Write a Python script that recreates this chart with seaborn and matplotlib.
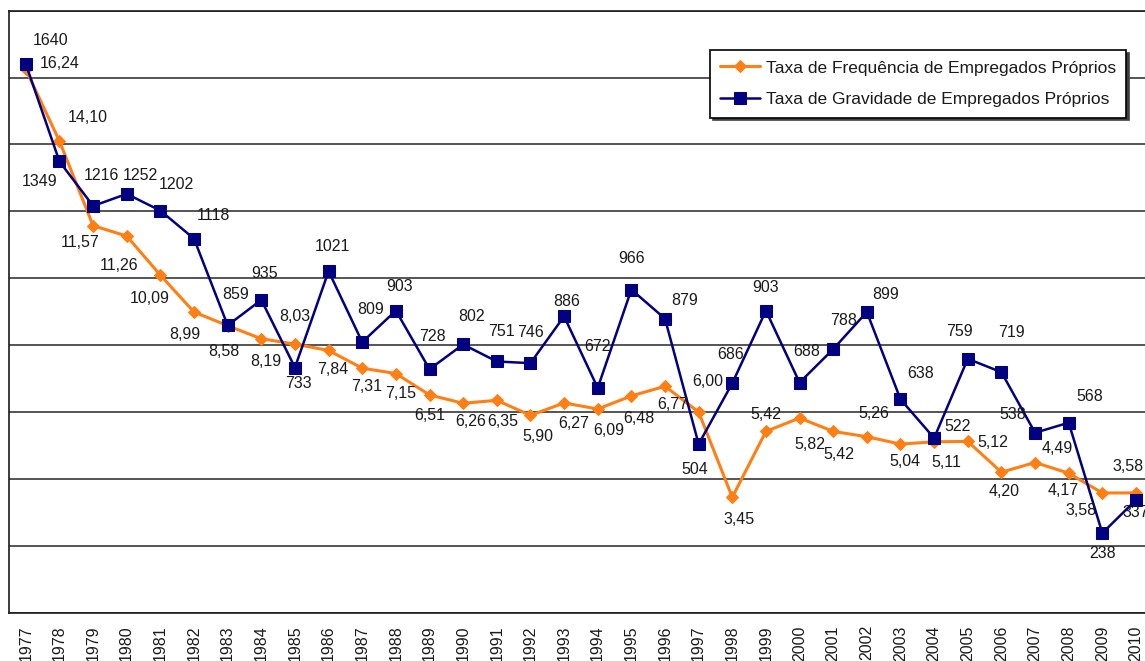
import matplotlib
matplotlib.use("Agg")
import matplotlib.pyplot as plt
import seaborn as sns
import pandas as pd
import numpy as np

# ---------------- data ----------------
years = ["1977", "1978", "1979", "1980", "1981", "1982", "1983", "1984", "1985",
         "1986", "1987", "1988", "1989", "1990", "1991", "1992", "1993", "1994",
         "1995", "1996", "1997", "1998", "1999", "2000", "2001", "2002", "2003",
         "2004", "2005", "2006", "2007", "2008", "2009", "2010"]

freq = [16.24, 14.10, 11.57, 11.26, 10.09, 8.99, 8.58, 8.19, 8.03, 7.84, 7.31,
        7.15, 6.51, 6.26, 6.35, 5.90, 6.27, 6.09, 6.48, 6.77, 6.00, 3.45, 5.42,
        5.82, 5.42, 5.26, 5.04, 5.11, 5.12, 4.20, 4.49, 4.17, 3.58, 3.58]

grav = [1640, 1349, 1216, 1252, 1202, 1118, 859, 935, 733, 1021, 809, 903, 728,
        802, 751, 746, 886, 672, 966, 879, 504, 686, 903, 688, 788, 899, 638,
        522, 759, 719, 538, 568, 238, 337]

freq_name = "Taxa de Frequência de Empregados Próprios"
grav_name = "Taxa de Gravidade de Empregados Próprios"

# label offsets in pixels (dx right, dy down) relative to each point
freq_off = [(34, -6), (28, -24), (-13, 17), (-8, 29), (-11, 23), (-9, 23),
            (-4, 26), (5, 23), (0, -28), (4, 19), (4, 18), (5, 20), (0, 21),
            (8, 18), (6, 21), (7, 21), (10, 21), (11, 22), (8, 23), (8, 18),
            (9, -30), (7, 22), (0, -17), (10, 26), (6, 23), (7, -23), (4, 17),
            (12, 21), (25, 1), (3, 19), (22, -14), (-6, 17), (-21, 18), (-8, -26)]
grav_off = [(25, -24), (-20, 20), (8, -30), (14, -18), (16, -26), (19, -23),
            (8, -31), (3, -26), (3, 16), (4, -25), (8, -33), (4, -24), (3, -33),
            (8, -28), (5, -30), (0, -31), (3, -15), (0, -41), (0, -31), (20, -18),
            (-4, 25), (-2, -29), (0, -23), (7, -31), (10, -29), (19, -17),
            (20, -26), (23, -12), (-8, -27), (10, -40), (-22, -18), (21, -26),
            (0, 20), (0, 13)]

ORANGE = "#FF7F14"
NAVY = "#000080"

# ---------------- figure ----------------
sns.set_style("white")
plt.rcParams["font.family"] = ["Liberation Sans", "DejaVu Sans"]

W, H = 1145, 661
fig = plt.figure(figsize=(W / 100, H / 100), dpi=100)
ax = fig.add_axes([9 / W, 48.3 / H, 1143.8 / W, 602.1 / H])

df = pd.DataFrame({
    "pos": np.arange(len(years)),
    "freq": freq,
    "grav": np.array(grav) / 100.0,
})

sns.lineplot(data=df, x="pos", y="freq", ax=ax, color=ORANGE, marker="D",
             markersize=6.5, markeredgecolor=ORANGE, linewidth=2.2,
             label=freq_name, zorder=3)
sns.lineplot(data=df, x="pos", y="grav", ax=ax, color=NAVY, marker="s",
             markersize=8, markeredgecolor=NAVY, linewidth=1.8,
             label=grav_name, zorder=4)

px = 72 / 100.0
LBL = 11.5
for i, v in enumerate(freq):
    dx, dy = freq_off[i]
    ax.annotate(f"{v:.2f}".replace(".", ","), (i, v), xytext=(dx * px, -dy * px),
                textcoords="offset points", ha="center", va="center",
                fontsize=LBL, color="#1a1a1a", zorder=6)
for i, g in enumerate(grav):
    dx, dy = grav_off[i]
    ax.annotate(f"{g}", (i, g / 100.0), xytext=(dx * px, -dy * px),
                textcoords="offset points", ha="center", va="center",
                fontsize=LBL, color="#1a1a1a", zorder=6)

# axes styling
ax.set_xlim(-0.5, len(years) - 0.5)
ax.set_ylim(0, 18)
ax.set_yticks(np.arange(0, 19, 2))
ax.set_yticklabels([])
ax.tick_params(axis="y", length=6, width=1.1, color="0.15", direction="out")
ax.yaxis.grid(True, color="0.15", linewidth=1.1)
ax.xaxis.grid(False)

ax.set_xticks(np.arange(len(years)))
ax.set_xticklabels(years, rotation=90, fontsize=11.5, color="#1a1a1a")
ax.tick_params(axis="x", which="major", length=0, pad=9)
ax.set_xticks(np.arange(-0.5, len(years), 1), minor=True)
ax.tick_params(axis="x", which="minor", length=5, width=1.1, color="black",
               direction="out")
ax.set_xlabel("")
ax.set_ylabel("")

for s in ["left", "bottom", "top", "right"]:
    ax.spines[s].set_visible(True)
    ax.spines[s].set_color("0.1")
    ax.spines[s].set_linewidth(1.2)

leg = ax.legend(loc="upper left", bbox_to_anchor=(710 / W, (H - 50) / H),
                bbox_transform=fig.transFigure, borderaxespad=0, frameon=True,
                fancybox=False, edgecolor="black", framealpha=1,
                shadow={"color": "0.25", "alpha": 1}, fontsize=12.5,
                handlelength=2.3, handletextpad=0.3, labelspacing=0.95,
                borderpad=0.6)
leg.get_frame().set_linewidth(1.2)
leg.set_zorder(10)
for t in leg.get_texts():
    t.set_color("#1a1a1a")

fig.savefig("out.png", dpi=100)
